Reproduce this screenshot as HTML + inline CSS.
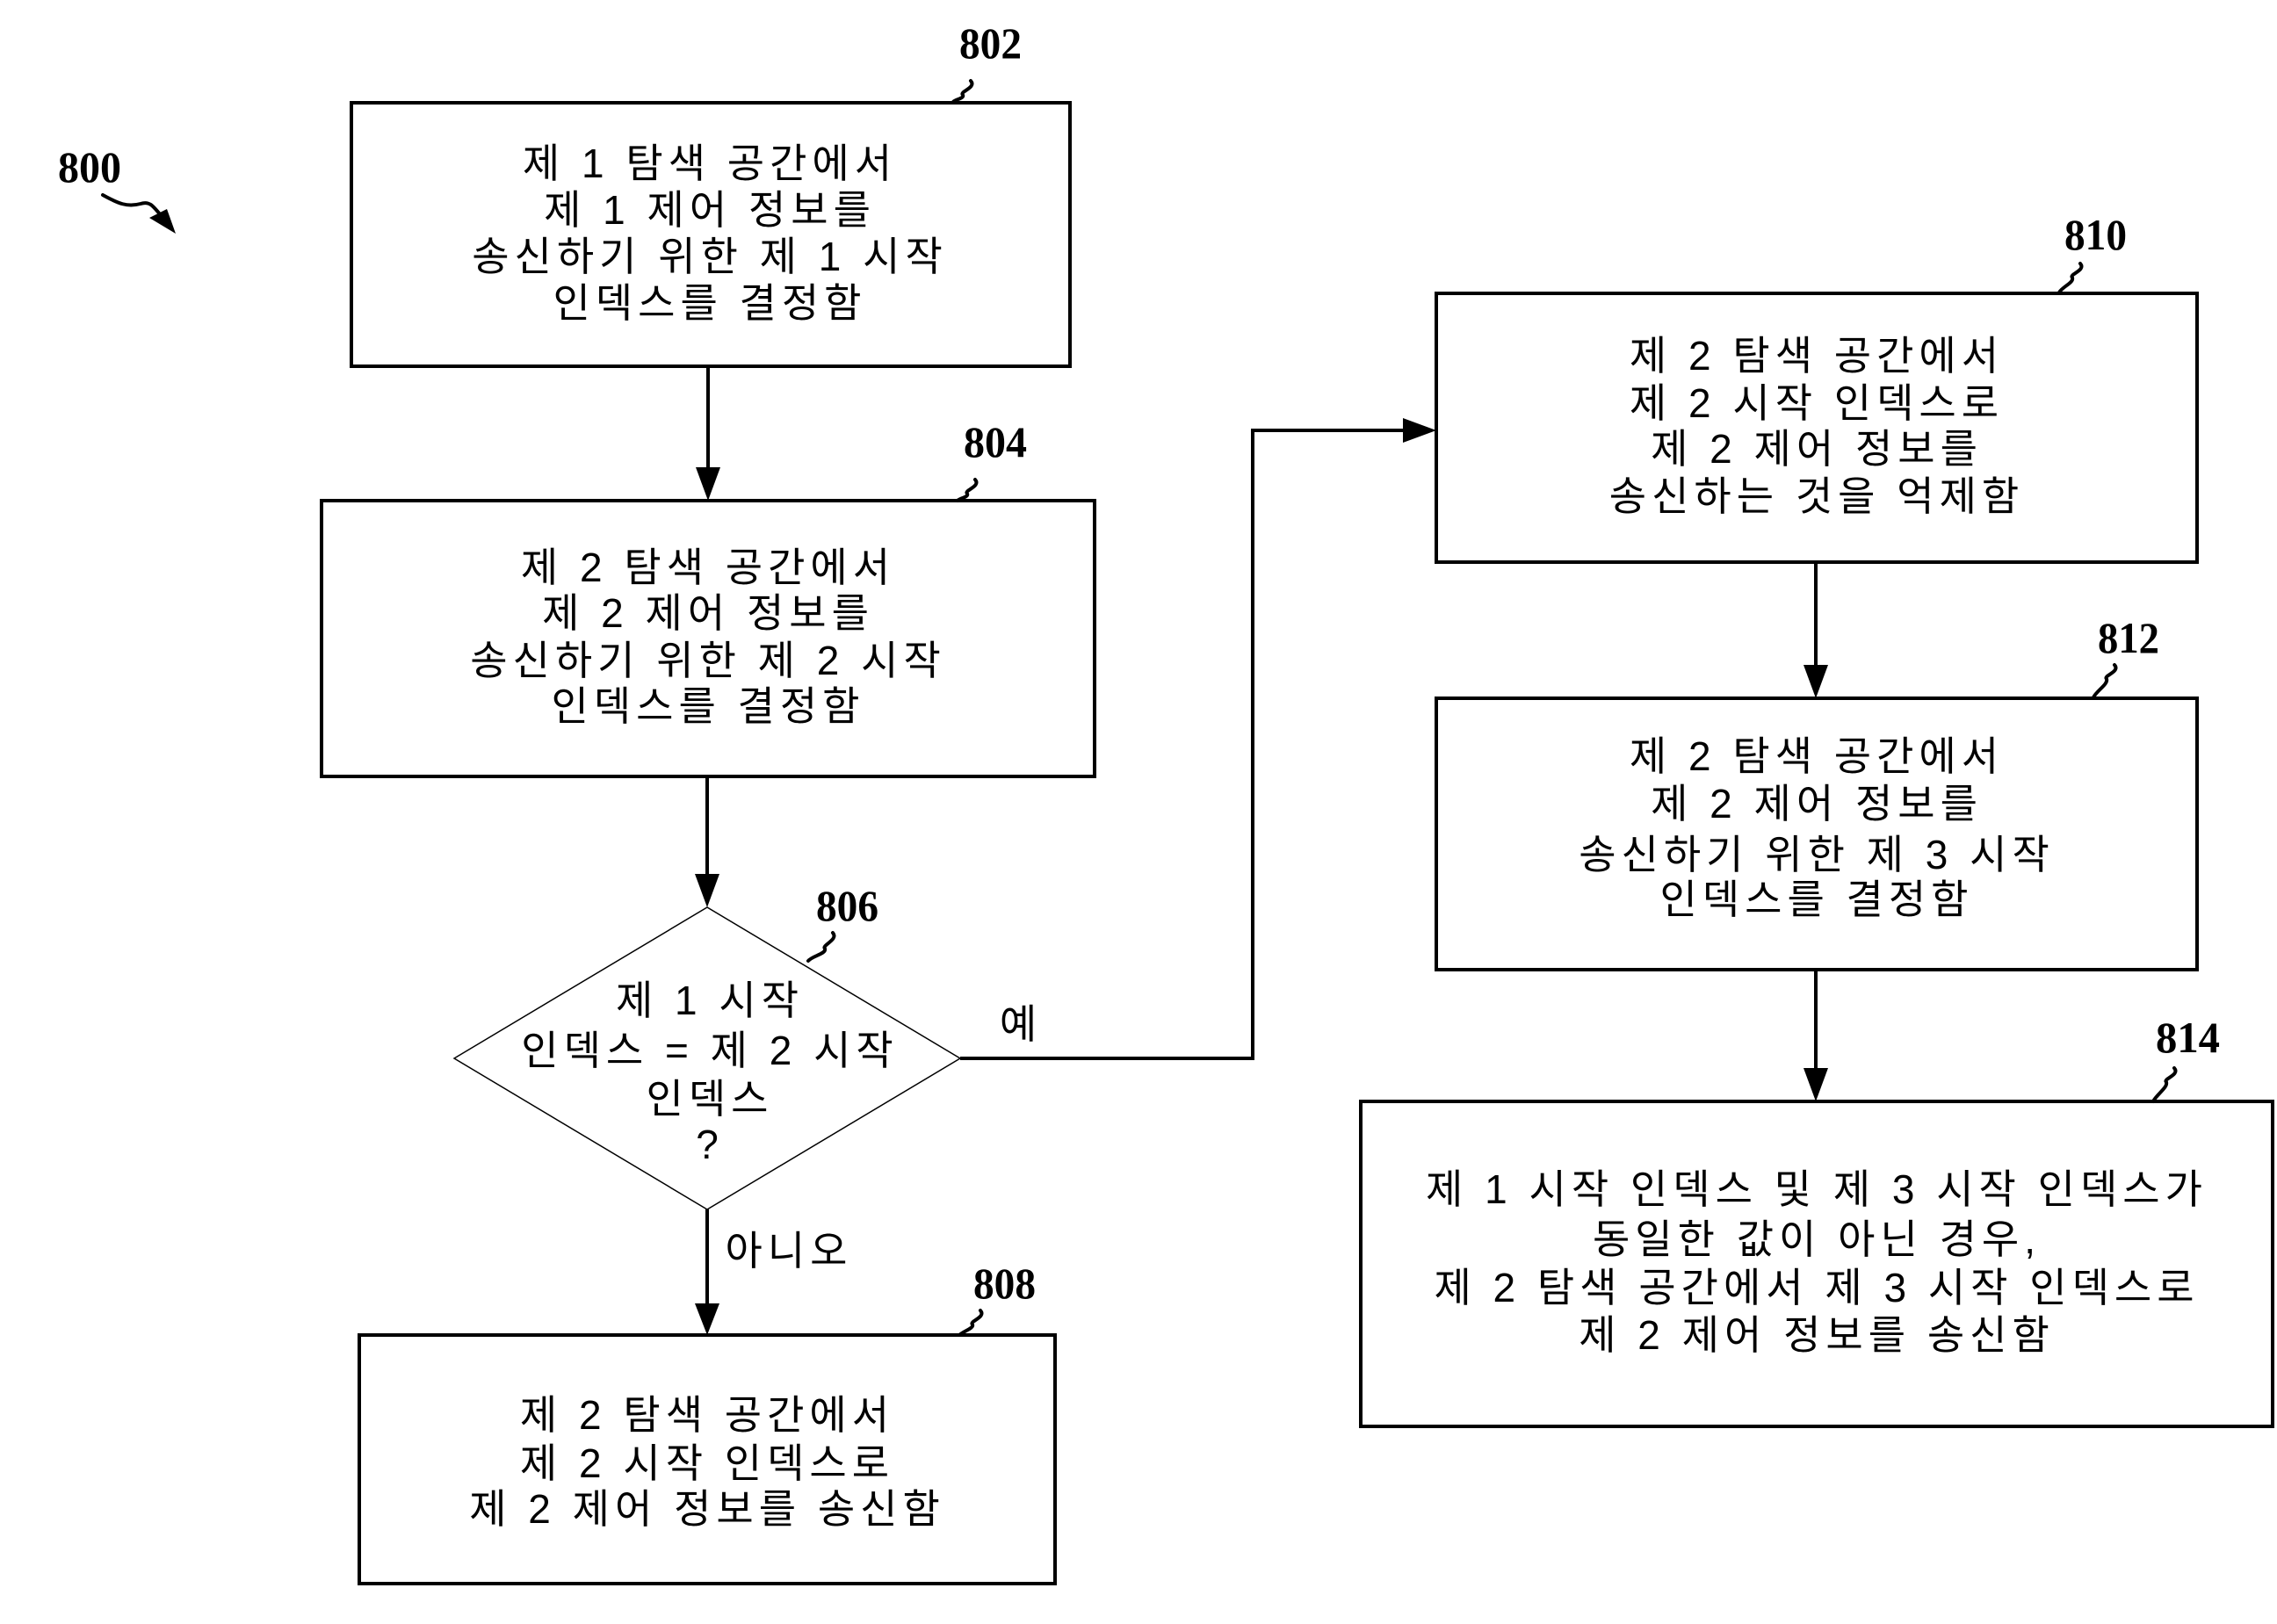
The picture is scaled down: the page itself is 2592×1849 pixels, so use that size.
<!DOCTYPE html>
<html><head><meta charset="utf-8"><style>
html,body{margin:0;padding:0;background:#fff;}
svg{display:block;}
.t{font-family:"Liberation Sans","Noto Sans CJK KR","NanumGothic",sans-serif;font-size:46px;letter-spacing:6px;fill:#000;text-anchor:middle;}
.n{font-family:"Liberation Serif",serif;font-weight:bold;font-size:50px;fill:#000;}
</style></head><body>
<svg width="2592" height="1849" viewBox="0 0 2592 1849" xmlns="http://www.w3.org/2000/svg">
<g fill="none" stroke="#000" stroke-width="4">
<rect x="400" y="117" width="818" height="300"/>
<rect x="366" y="570" width="880" height="314"/>
<rect x="409" y="1520" width="792" height="283"/>
<rect x="1635" y="334" width="866" height="306"/>
<rect x="1635" y="795" width="866" height="309"/>
<rect x="1549" y="1254" width="1038" height="370"/>
<line x1="806" y1="417" x2="806" y2="535"/>
<line x1="805" y1="884" x2="805" y2="1000"/>
<line x1="805" y1="1377" x2="805" y2="1487"/>
<polyline points="1093,1205 1426,1205 1426,490 1600,490"/>
<line x1="2067" y1="640" x2="2067" y2="760"/>
<line x1="2067" y1="1104" x2="2067" y2="1220"/>
</g>
<polygon points="517,1205 805,1033 1093,1205 805,1377" fill="none" stroke="#000" stroke-width="1.5"/>
<g fill="#000">
<polygon points="792,532 820,532 806,570"/>
<polygon points="791,995 819,995 805,1033"/>
<polygon points="791,1484 819,1484 805,1520"/>
<polygon points="1597,476 1597,504 1635,490"/>
<polygon points="2053,757 2081,757 2067,795"/>
<polygon points="2053,1216 2081,1216 2067,1254"/>
</g>
<g fill="none" stroke="#000" stroke-width="4" stroke-linecap="round">
<path d="M117,222 C135,232 145,236 160,232 C172,228 175,236 192,256"/>
<path d="M1105,92 C1112,100 1092,104 1096,108 C1098,112 1088,113 1085,116"/>
<path d="M1110,546 C1117,554 1097,558 1101,562 C1103,566 1093,567 1090,570"/>
<path d="M948,1062 C955,1070 935,1076 939,1080 C941,1086 925,1088 920,1094"/>
<path d="M1116,1492 C1123,1500 1103,1504 1107,1508 C1109,1512 1098,1515 1092,1520"/>
<path d="M2368,300 C2375,308 2355,312 2359,316 C2361,322 2348,326 2344,333"/>
<path d="M2407,757 C2414,765 2394,769 2398,773 C2400,779 2387,786 2383,794"/>
<path d="M2475,1216 C2482,1224 2462,1228 2466,1232 C2468,1238 2455,1246 2451,1254"/>
</g>
<polygon points="170,248 200,266 190,238" fill="#000"/>
<text class="n" x="66" y="207" textLength="72" lengthAdjust="spacingAndGlyphs">800</text>
<text class="n" x="1092" y="66" textLength="71" lengthAdjust="spacingAndGlyphs">802</text>
<text class="n" x="1097" y="520" textLength="72" lengthAdjust="spacingAndGlyphs">804</text>
<text class="n" x="929" y="1048" textLength="71" lengthAdjust="spacingAndGlyphs">806</text>
<text class="n" x="1108" y="1478" textLength="71" lengthAdjust="spacingAndGlyphs">808</text>
<text class="n" x="2350" y="284" textLength="71" lengthAdjust="spacingAndGlyphs">810</text>
<text class="n" x="2388" y="743" textLength="70" lengthAdjust="spacingAndGlyphs">812</text>
<text class="n" x="2454" y="1198" textLength="73" lengthAdjust="spacingAndGlyphs">814</text>
<g class="t">
<text x="808" y="202">제 1 탐색 공간에서</text>
<text x="808" y="255">제 1 제어 정보를</text>
<text x="808" y="308">송신하기 위한 제 1 시작</text>
<text x="808" y="361">인덱스를 결정함</text>

<text x="806" y="662">제 2 탐색 공간에서</text>
<text x="806" y="714">제 2 제어 정보를</text>
<text x="806" y="768">송신하기 위한 제 2 시작</text>
<text x="806" y="820">인덱스를 결정함</text>

<text x="808" y="1155">제 1 시작</text>
<text x="808" y="1212">인덱스 = 제 2 시작</text>
<text x="808" y="1267">인덱스</text>
<text x="808" y="1319">?</text>

<text x="1162" y="1182">예</text>
<text x="898" y="1440">아니오</text>

<text x="805" y="1627">제 2 탐색 공간에서</text>
<text x="805" y="1682">제 2 시작 인덱스로</text>
<text x="805" y="1734">제 2 제어 정보를 송신함</text>

<text x="2068" y="421">제 2 탐색 공간에서</text>
<text x="2068" y="475">제 2 시작 인덱스로</text>
<text x="2068" y="527">제 2 제어 정보를</text>
<text x="2068" y="581">송신하는 것을 억제함</text>

<text x="2068" y="877">제 2 탐색 공간에서</text>
<text x="2068" y="931">제 2 제어 정보를</text>
<text x="2068" y="989">송신하기 위한 제 3 시작</text>
<text x="2068" y="1040">인덱스를 결정함</text>

<text x="2068" y="1370">제 1 시작 인덱스 및 제 3 시작 인덱스가</text>
<text x="2068" y="1427">동일한 값이 아닌 경우,</text>
<text x="2068" y="1482">제 2 탐색 공간에서 제 3 시작 인덱스로</text>
<text x="2068" y="1536">제 2 제어 정보를 송신함</text>
</g>
</svg>
</body></html>
